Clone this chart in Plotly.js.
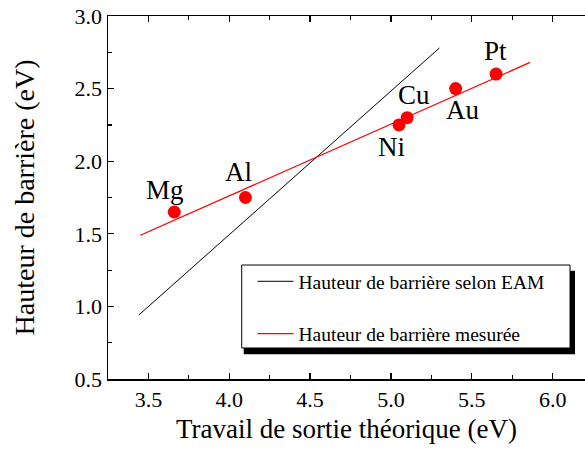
<!DOCTYPE html>
<html>
<head>
<meta charset="utf-8">
<script src="https://cdn.plot.ly/plotly-3.0.1.min.js"></script>
<style>html,body{margin:0;padding:0;overflow:hidden;background:#fff}#chart{width:585px;height:457px}</style>
</head>
<body>
<div id="chart"></div>
<script>
// Data
const metals = ['Mg', 'Al', 'Ni', 'Cu', 'Au', 'Pt'];
const workFunction = [3.66, 4.10, 5.05, 5.10, 5.40, 5.65];
const barrierMeasured = [1.65, 1.75, 2.25, 2.30, 2.50, 2.60];
const fitX = [3.45, 5.86];
const fitY = [1.49, 2.68];
const eamX = [3.44, 5.30];
const eamY = [0.94, 2.78];
const legendNames = ['Hauteur de barrière selon EAM', 'Hauteur de barrière mesurée'];
const xTitle = 'Travail de sortie théorique (eV)';
const yTitle = 'Hauteur de barrière (eV)';

// label placement (pixels), separate from data
const labelShift = [[-9, 22], [-7, 26], [-8, -22], [7, 23], [7, -21], [-1, 23]];

const FONT = 'Liberation Serif, Times New Roman, serif';

const traces = [
  {x: eamX, y: eamY, mode: 'lines', name: legendNames[0], legendgroup: 'a',
   line: {color: '#000000', width: 1}},
  {x: fitX, y: fitY, mode: 'lines', name: legendNames[1], legendgroup: 'b',
   line: {color: '#ff0000', width: 1.3}},
  {x: workFunction, y: barrierMeasured, mode: 'markers', showlegend: false,
   marker: {color: '#ff0000', size: 13}}
];

const annotations = metals.map((m, i) => ({
  x: workFunction[i], y: barrierMeasured[i], xref: 'x', yref: 'y',
  text: m, showarrow: false, xshift: labelShift[i][0], yshift: labelShift[i][1],
  font: {family: FONT, size: 27, color: '#000'}
}));

const axisCommon = {
  showgrid: false, zeroline: false, showline: true, linecolor: '#000', linewidth: 1.5,
  ticks: 'inside', ticklen: 6, tickwidth: 1.3, tickcolor: '#000',
  tickfont: {family: FONT, size: 22, color: '#000'},
  dtick: 0.5, tickformat: '.1f',
  minor: {dtick: 0.25, ticks: 'inside', ticklen: 4, tickwidth: 1.2, tickcolor: '#000', showgrid: false}
};

const layout = {
  width: 585, height: 457,
  margin: {l: 108, r: 0, t: 16, b: 78},
  paper_bgcolor: '#fff', plot_bgcolor: '#fff',
  showlegend: true,
  xaxis: Object.assign({}, axisCommon, {
    range: [3.25, 6.2], tick0: 3.5, mirror: 'ticks',
    title: {text: xTitle, font: {family: FONT, size: 27, color: '#000'}, standoff: 8}
  }),
  yaxis: Object.assign({}, axisCommon, {
    range: [0.5, 3.0], tick0: 0.5, mirror: false,
    title: {text: yTitle, font: {family: FONT, size: 28, color: '#000'}, standoff: 32}
  }),
  legend: {
    x: 0.303, y: 0.322, xanchor: 'left', yanchor: 'top', itemwidth: 36,
    bgcolor: 'rgba(0,0,0,0)', borderwidth: 0, tracegroupgap: 24,
    font: {family: FONT, size: 19.5, color: '#000'}
  },
  shapes: [
    {type: 'rect', xref: 'paper', yref: 'paper', x0: 0.2845, x1: 0.979, y0: 0.068, y1: 0.298,
     fillcolor: '#000', line: {width: 0}, layer: 'above'},
    {type: 'rect', xref: 'paper', yref: 'paper', x0: 0.2803, x1: 0.9686, y0: 0.0854, y1: 0.314,
     fillcolor: '#fff', line: {color: '#000', width: 1}, layer: 'above'}
  ],
  annotations: annotations
};

Plotly.newPlot('chart', traces, layout, {displayModeBar: false, staticPlot: true});
</script>
</body>
</html>
